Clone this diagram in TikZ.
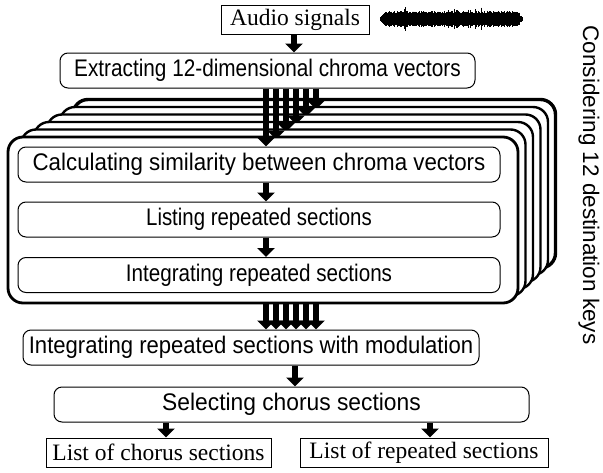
\documentclass[tikz,border=0pt]{standalone}
\usepackage{fontspec}
\setmainfont{Liberation Serif}
\setsansfont{Liberation Sans}
\usetikzlibrary{arrows.meta}
\newcommand\sx[2]{\scalebox{#1}[1]{#2}}
\begin{document}
\begin{tikzpicture}[x=1pt,y=-1pt,
  sbox/.style={draw,fill=white,line width=1pt,rounded corners=8pt,minimum height=35pt,inner sep=0pt,
    font=\sffamily\fontsize{24}{26}\selectfont},
  tbox/.style={draw,fill=white,line width=1pt,minimum height=29pt,inner sep=0pt,
    font=\rmfamily\fontsize{23.5}{26}\selectfont},
  fat/.style={line width=6pt,-{Triangle[width=17pt,length=9pt]}},
  layer/.style={draw,fill=white,line width=2.4pt,rounded corners=15pt,inner sep=0pt,outer sep=0pt}]
\useasboundingbox (0,0) rectangle (603,472);

% top row
\node[tbox,minimum width=148pt] (audio) at (295,19.5) {Audio signals};
\begin{scope}
\pgfmathsetseed{11}
\foreach \i in {0,...,240} {
  \pgfmathsetmacro\env{min(1,min(\i/10,(240-\i)/10))}
  \pgfmathsetmacro\aa{\env*(4.5+2.5*rnd+(rnd>0.85)*4*rnd)+1}
  \pgfmathsetmacro\xx{380+0.595*\i}
  \draw[line width=1pt] (\xx,19-\aa) -- (\xx,19+\aa);
}
\end{scope}

\node[sbox,minimum width=415pt] (ext) at (267.5,70.5) {\sx{0.865}{Extracting 12-dimensional chroma vectors}};
\coordinate (t0) at (294,0);
\draw[fat] (audio.south -| t0) -- (ext.north -| t0);

\node[sbox,minimum width=456pt] (mod) at (251,347.5) {\sx{0.92}{Integrating repeated sections with modulation}};

% back layers
\foreach \k/\lw in {5/3.4,4/2.4,3/2.4,2/2.4,1/2.4} {
  \pgfmathsetmacro\w{510-5.5*\k}
  \pgfmathsetmacro\h{166+0.5*\k}
  \pgfmathsetmacro\cx{263+10.25*\k}
  \pgfmathsetmacro\cy{220-7.25*\k}
  \pgfmathsetmacro\ax{266+10*\k}
  \pgfmathsetmacro\ay{147-7.5*\k}
  \node[layer,line width=\lw pt,minimum width=\w pt,minimum height=\h pt] (L\k) at (\cx,\cy) {};
  \coordinate (ta\k) at (\ax,\ay);
  \draw[fat] (ext.south -| ta\k) -- (ta\k);
  \draw[fat] (L\k.south -| ta\k) -- (mod.north -| ta\k);
}

% front layer
\node[layer,line width=2.8pt,minimum width=510pt,minimum height=166pt] (front) at (263,220) {};
\node[sbox,minimum width=482pt] (calc) at (259,164.5) {\sx{0.93}{Calculating similarity between chroma vectors}};
\node[sbox,minimum width=482pt] (list) at (259,219.5) {\sx{0.85}{Listing repeated sections}};
\node[sbox,minimum width=482pt] (integ) at (259,275) {\sx{0.86}{Integrating repeated sections}};
\coordinate (a0) at (266,0);
\draw[fat] (ext.south -| a0) -- (calc.north -| a0);
\draw[fat] (calc.south -| a0) -- (list.north -| a0);
\draw[fat] (list.south -| a0) -- (integ.north -| a0);
\draw[fat] (front.south -| a0) -- (mod.north -| a0);

% lower part
\node[sbox,minimum width=475pt] (sel) at (291.5,404.5) {\sx{0.95}{Selecting chorus sections}};
\coordinate (m0) at (295,0);
\draw[fat] (mod.south -| m0) -- (sel.north -| m0);

\node[tbox,minimum width=225pt] (chor) at (158.5,452.5) {List of chorus sections};
\node[tbox,minimum width=248pt] (rep) at (424,452.5) {List of repeated sections};
\coordinate (c0) at (166,0);
\coordinate (r0) at (430,0);
\draw[fat] (sel.south -| c0) -- (chor.north -| c0);
\draw[fat] (sel.south -| r0) -- (rep.north -| r0);

\node[rotate=-90,font=\sffamily\fontsize{22.5}{24}\selectfont] (keys) at (589,185) {Considering 12 destination keys};
\end{tikzpicture}
\end{document}
